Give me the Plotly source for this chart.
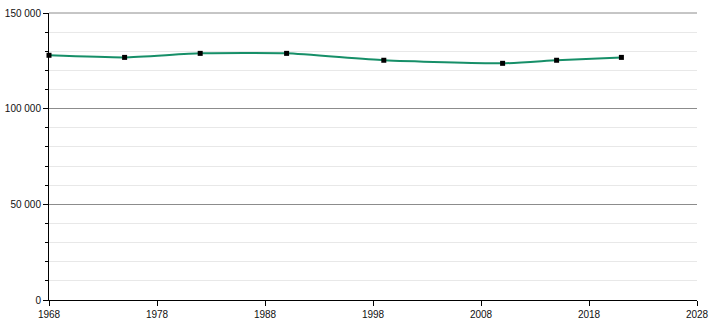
import plotly.graph_objects as go

years = [1968, 1975, 1982, 1990, 1999, 2010, 2015, 2021]
population = [127900, 126800, 128900, 128900, 125300, 123700, 125300, 126800]

x_ticks = [1968, 1978, 1988, 1998, 2008, 2018, 2028]

fig = go.Figure()
fig.add_trace(go.Scatter(
    x=years, y=population,
    mode="lines+markers",
    line=dict(color="rgb(22,143,104)", width=2, shape="spline", smoothing=0.5),
    marker=dict(symbol="square", size=5, color="black"),
    cliponaxis=False,
    hoverinfo="skip",
))

fig.update_layout(
    width=710, height=320,
    margin=dict(l=49, r=13, t=13, b=20, autoexpand=False),
    paper_bgcolor="white", plot_bgcolor="white",
    showlegend=False,
    separators=", ",
    font=dict(family="Liberation Sans, Arial, sans-serif", size=10, color="#111"),
    shapes=[dict(type="line", xref="paper", yref="paper", x0=0, x1=1, y0=1, y1=1,
                 line=dict(color="#8c8c8c", width=1), layer="below")],
)
fig.update_xaxes(
    range=[1968, 2028],
    tickvals=x_ticks,
    ticktext=[str(v) for v in x_ticks],
    showgrid=False, zeroline=False, automargin=False,
    showline=True, linecolor="black", linewidth=1,
    ticks="outside", ticklen=5, tickcolor="black",
)
fig.update_yaxes(
    range=[0, 150000],
    tick0=0, dtick=50000,
    tickformat=",d",
    showgrid=True, gridcolor="#8c8c8c", gridwidth=1,
    zeroline=False, automargin=False,
    showline=True, linecolor="black", linewidth=1,
    ticks="outside", ticklen=5, tickcolor="black",
    minor=dict(dtick=10000, showgrid=True, gridcolor="#e8e8e8",
               ticks="outside", ticklen=3, tickcolor="black"),
)

fig.write_html("out.html")
